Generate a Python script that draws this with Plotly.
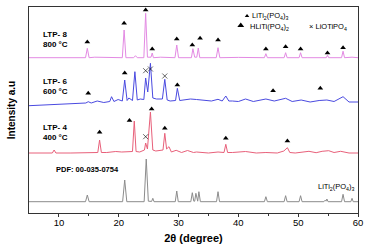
import plotly.graph_objects as go

# ---------------- data (2θ in degrees, intensity in a.u. relative to each baseline) ----------------
PDF_X = [5, 14.45, 14.75, 15.05, 20.65, 21.0, 21.35, 24.25, 24.6, 24.95, 25.5, 25.7, 25.9,
         29.45, 29.7, 29.95, 32.05, 32.3, 32.55, 32.7, 32.9, 33.1, 33.2, 33.4, 33.65,
         36.35, 36.6, 36.85, 44.35, 44.6, 44.85, 47.65, 47.9, 48.15, 50.15, 50.4, 50.65,
         54.3, 54.5, 54.65, 54.8, 55.0, 57.25, 57.5, 57.75, 58.8, 59.0, 59.2, 60]
PDF_Y = [0, 0, 6.7, 0, 0, 21.7, 0, 0, 42.7, 0.5, 0.3, 3.4, 0,
         0, 10.7, 0, 0, 9.0, 0.5, 0.5, 8.4, 0.5, 0.5, 10.0, 0,
         0, 10.0, 0, 0, 5.0, 0, 0, 6.0, 0, 0, 6.0, 0,
         0, 1.5, 0.5, 2.7, 0, 0, 7.4, 0, 0, 3.4, 0, 0]

LTP4_X = [5, 8.9, 9.2, 9.5, 12, 16.5, 16.8, 17.1, 18.0, 19.5, 20.5, 22.3, 22.6, 22.9,
          23.5, 24.3, 24.5, 24.8, 25.3, 25.7, 26.2, 27.4, 27.7, 28.0, 28.4, 28.8, 29.6,
          30.5, 31.5, 32.5, 33.0, 35, 36.6, 37.6, 37.9, 38.2, 39.0, 41.2, 43, 44.6,
          46.5, 47.6, 48.2, 48.6, 49.5, 51.8, 53, 54.0, 55.1, 56, 57.1, 58.5, 60]
LTP4_Y = [0, 0, 3, 0, 0, 0.5, 13, 0.5, 0.5, 1.5, 1, 1.5, 32, 1.5,
          1, 3, 10, 4, 41, 3, 2, 3, 19.7, 4, 6.3, 1, 2.7,
          0.5, 2.5, 0.5, 1, 0, 1, 0.5, 8.7, 0.5, 0.5, 1.5, 0, 0.5,
          0, 2, 5.3, 0.5, 0, 1.7, 0.3, 1.7, 2.3, 0.5, 1.7, 0, 0]

LTP6_X = [5, 8, 10, 12.5, 14.5, 14.9, 15.4, 16.4, 17.5, 18.5, 18.8, 19.2, 19.9, 20.6, 21.0, 21.4,
          21.7, 22.3, 22.7, 23.1, 23.6, 24.2, 24.5, 24.85, 25.3, 25.7, 26.3, 27.3, 27.7, 28.1,
          28.6, 29.5, 29.8, 30.2, 31.0, 32.0, 33.0, 34.0, 35.5, 36.6, 37.3, 37.9, 38.4, 39.0,
          40.0, 41.2, 42.5, 44.6, 46.0, 47.9, 49.0, 50.5, 52.0, 53.5, 54.8, 56.0, 57.5, 58.5, 60]
LTP6_Y = [-3.7, -3.0, -2.3, -1.8, -1.0, 0.3, -1.0, 1.0, -0.5, 0.5, 5.3, 0.5, 2.5, 1.0, 22.0, 1.5,
          4.0, 1.5, 30.3, 2.0, 3.0, 2.5, 24.0, 10.0, 38.7, 4.0, 3.0, 3.0, 22.7, 2.0,
          1.0, 1.5, 13.7, 1.5, 2.0, 3.0, 2.5, 2.0, 1.0, 2.7, 1.0, 6.0, 1.0, 1.0,
          0.5, 3.0, 0.5, 3.0, 1.0, 3.7, 0.5, 2.0, 0, 1.5, 2.0, 0.5, 5.3, 0, 0]

LTP8_X = [5, 10, 14.45, 14.75, 15.05, 16.0, 18.0, 20.6, 20.9, 21.2, 22.5, 22.8, 23.1, 24.2,
          24.5, 24.8, 25.4, 25.6, 25.8, 27.0, 29.4, 29.7, 30.0, 32.15, 32.4, 32.7, 33.05, 33.3,
          33.55, 36.3, 36.6, 36.9, 40.0, 44.35, 44.6, 44.85, 47.65, 47.9, 48.15, 50.15, 50.4,
          50.65, 54.7, 54.9, 55.1, 57.25, 57.5, 57.75, 59.0, 60]
LTP8_Y = [0, 0, 0, 9.4, 0, 0.5, 0.3, 0, 27.7, 0, 0, 2.0, 0, 0,
          44.4, 0.5, 0.5, 4.7, 0, 0.5, 0, 12.7, 0, 0, 9.0, 0.5, 0.5, 9.7,
          0, 0, 10.0, 0, 0.3, 0, 4.0, 0, 0, 5.0, 0, 0, 5.0,
          0, 0, 2.5, 0, 0, 6.5, 0, 0.5, 0]

PATTERN_NAMES = ["PDF: 00-035-0754", "LTP- 4", "LTP- 6", "LTP- 8"]
PATTERN_TEMPS = ["", "400 °C", "600 °C", "800 °C"]
PATTERN_OFFSETS = [11.3, 60.0, 111.0, 155.3]

# phase markers: (2θ, height above baseline)
LTP8_TRI_X = [14.75, 20.9, 24.5, 25.6, 29.7, 32.3, 33.6, 36.6, 44.6, 47.9, 50.4, 54.9, 57.5]
LTP8_TRI_Y = [15.7, 34.4, 47.7, 8.7, 18.7, 12.7, 19.4, 17.7, 8.7, 11.0, 8.7, 4.7, 10.0]
LTP6_TRI_X = [14.9, 21.0, 29.8, 45.8, 53.7]
LTP6_TRI_Y = [8.7, 29.0, 17.0, 11.3, 13.7]
LTP6_X_X = [24.5, 25.3, 27.7]
LTP6_X_Y = [31.3, 33.0, 26.0]
LTP4_TRI_X = [16.8, 21.8, 25.5, 27.7, 37.9, 48.2]
LTP4_TRI_Y = [20.7, 32.5, 44.0, 24.7, 14.7, 12.0]
LTP4_X_X = [24.5]
LTP4_X_Y = [16.3]

# ---------------- figure ----------------
COLORS = ["#8c8c8c", "#e8607a", "#4a4ae0", "#e38ae3"]
FONT = "Liberation Sans, Arial, sans-serif"

fig = go.Figure()
series = [(PDF_X, PDF_Y), (LTP4_X, LTP4_Y), (LTP6_X, LTP6_Y), (LTP8_X, LTP8_Y)]
for (xs, ys), off, col in zip(series, PATTERN_OFFSETS, COLORS):
    fig.add_trace(go.Scatter(x=xs, y=[v + off for v in ys], mode="lines",
                             line=dict(color=col, width=1), showlegend=False, hoverinfo="skip"))

def add_markers(xs, ys, off, symbol, size):
    fig.add_trace(go.Scatter(x=xs, y=[v + off for v in ys], mode="markers",
                             marker=dict(symbol=symbol, size=size, color="black",
                                         line=dict(width=0.6 if "x" in symbol else 0, color="black")),
                             showlegend=False, hoverinfo="skip"))

add_markers(LTP8_TRI_X, LTP8_TRI_Y, PATTERN_OFFSETS[3], "triangle-up", 5)
add_markers(LTP6_TRI_X, LTP6_TRI_Y, PATTERN_OFFSETS[2], "triangle-up", 5)
add_markers(LTP6_X_X, LTP6_X_Y, PATTERN_OFFSETS[2], "x-thin", 5)
add_markers(LTP4_TRI_X, LTP4_TRI_Y, PATTERN_OFFSETS[1], "triangle-up", 5)
add_markers(LTP4_X_X, LTP4_X_Y, PATTERN_OFFSETS[1], "x-thin", 5)

# legend-like key (top right)
fig.add_trace(go.Scatter(x=[41.45], y=[197], mode="markers",
                         marker=dict(symbol="triangle-up", size=4, color="black"),
                         showlegend=False, hoverinfo="skip"))
fig.add_trace(go.Scatter(x=[40.4], y=[187.5], mode="markers",
                         marker=dict(symbol="triangle-up", size=6, color="black"),
                         showlegend=False, hoverinfo="skip"))
ann_small = dict(size=7.5, family=FONT, color="black")
fig.add_annotation(x=42.0, y=197, xref="x", yref="y", xanchor="left", yanchor="middle",
                   text="LiTi<sub>2</sub>(PO<sub>4</sub>)<sub>3</sub>", showarrow=False, font=ann_small)
fig.add_annotation(x=41.6, y=186.5, xref="x", yref="y", xanchor="left", yanchor="middle",
                   text="HLiTi(PO<sub>4</sub>)<sub>2</sub>", showarrow=False, font=ann_small)
fig.add_annotation(x=51.5, y=186.5, xref="x", yref="y", xanchor="left", yanchor="middle",
                   text="× LiOTiPO<sub>4</sub>", showarrow=False, font=ann_small)

# pattern labels
label_y = [44, 81, 127, 174]
for name, temp, ly in zip(PATTERN_NAMES, PATTERN_TEMPS, label_y):
    txt = "<b>%s</b>" % name if not temp else "<b>%s<br>%s</b>" % (name, temp)
    fig.add_annotation(x=7.0 if temp else 9.2, y=ly, xref="x", yref="y", xanchor="left",
                       yanchor="middle", text=txt, showarrow=False, align="left",
                       font=dict(size=8 if temp else 7.5, family=FONT, color="black"))
fig.add_annotation(x=59.8, y=26, xref="x", yref="y", xanchor="right", yanchor="middle",
                   text="LiTi<sub>2</sub>(PO<sub>4</sub>)<sub>3</sub>", showarrow=False, font=ann_small)

fig.update_layout(
    width=370, height=249, autosize=False,
    margin=dict(l=29, r=12, t=7, b=36, pad=0, autoexpand=False),
    paper_bgcolor="white", plot_bgcolor="white",
    font=dict(family=FONT, color="black"),
    xaxis=dict(range=[5, 60], tickvals=[10, 20, 30, 40, 50, 60], ticks="outside", ticklen=3,
               tickwidth=1, tickcolor="#333", showline=True, linecolor="#333", linewidth=1,
               mirror=True, showgrid=False, zeroline=False, automargin=False,
               ticklabelstandoff=-2,
               tickfont=dict(size=9.5, family=FONT),
               minor=dict(tickvals=[15, 25, 35, 45, 55], ticks="outside", ticklen=2,
                          tickcolor="#333", showgrid=False),
               title=dict(text="<b>2θ (degree)</b>", font=dict(size=11, family=FONT), standoff=6)),
    yaxis=dict(range=[0, 206], showticklabels=False, ticks="", showline=True, linecolor="#333",
               linewidth=1, mirror=True, showgrid=False, zeroline=False, automargin=False,
               title=dict(text="<b>Intensity a.u</b>", font=dict(size=10, family=FONT), standoff=10)),
)

fig.write_html("out.html", config={"displayModeBar": False},
               post_script="document.body.style.margin='0';document.body.style.padding='0';")
